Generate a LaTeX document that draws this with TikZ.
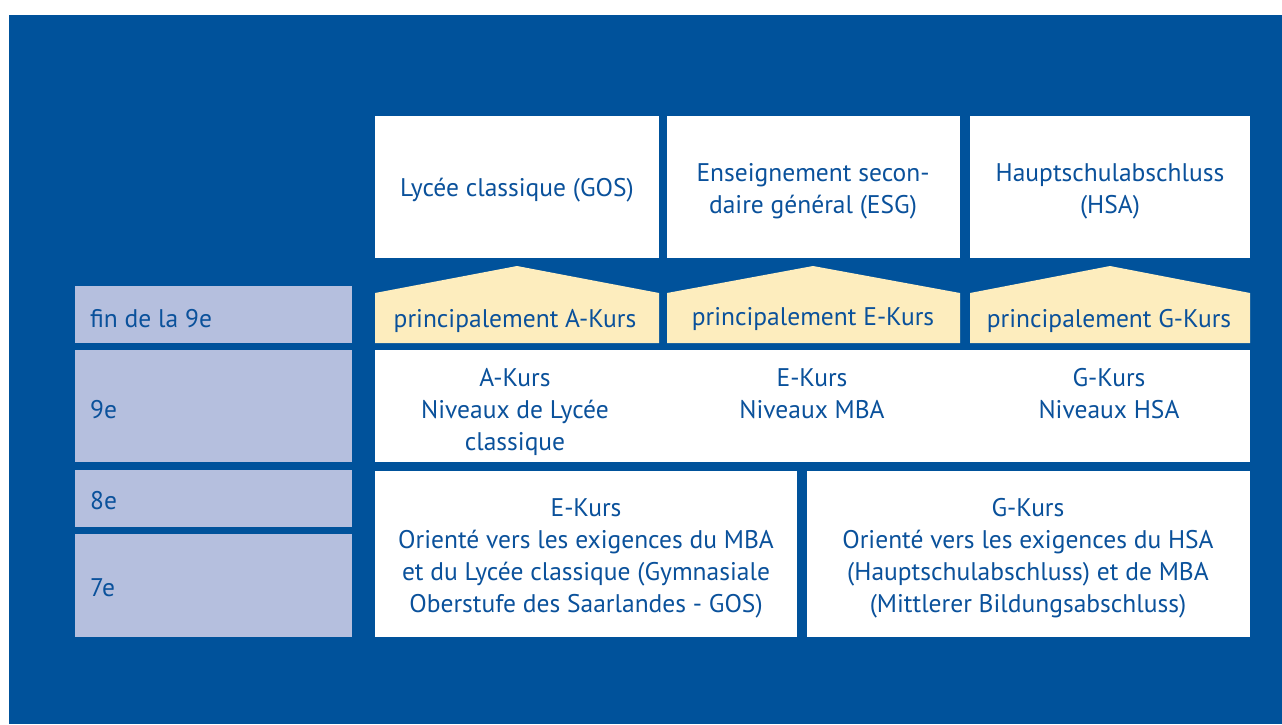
\documentclass[tikz,border=0pt]{standalone}
\usepackage{fontspec}
\setmainfont{PT Sans}
\definecolor{bgblue}{HTML}{00529B}
\definecolor{lav}{HTML}{B5BFDE}
\definecolor{pale}{HTML}{FDEDBE}
\definecolor{txt}{HTML}{0A519B}
\begin{document}
\begin{tikzpicture}[x=1pt,y=-1pt,
  lbl/.style={text=txt,font=\fontsize{25.5}{32}\selectfont,align=center,inner sep=0pt},
  lft/.style={text=txt,font=\fontsize{25.5}{32}\selectfont,anchor=west,inner sep=0pt},
  lavbox/.style={fill=lav},
  whitebox/.style={fill=white},
  roof/.style={fill=pale}]
\useasboundingbox (0,0) rectangle (1282,724);
\fill[white] (0,0) rectangle (1282,724);
\fill[bgblue] (9,15) rectangle (1282,724);
% left column
\fill[lavbox] (75,286) rectangle (352,343);
\fill[lavbox] (75,350) rectangle (352,462);
\fill[lavbox] (75,470) rectangle (352,527);
\fill[lavbox] (75,534) rectangle (352,637);
\node[lft] (fin) at (90,318.5) {fin de la 9e};
\node[lft] (n9) at (90,410) {9e};
\node[lft] (n8) at (90,501) {8e};
\node[lft] (n7) at (90,588) {7e};
% top boxes
\fill[whitebox] (375,116) rectangle (659,258);
\fill[whitebox] (667,116) rectangle (960,258);
\fill[whitebox] (970,116) rectangle (1250,258);
\node[lbl] (gos) at (517,190) {Lycée classique (GOS)};
\node[lbl] (esg) at (813,191) {Enseignement secon-\\daire général (ESG)};
\node[lbl] (hsa) at (1110,191) {Hauptschulabschluss\\(HSA)};
% roofs
\fill[roof] (375,343) -- (375,293) -- (517,266) -- (659,293) -- (659,343) -- cycle;
\fill[roof] (667,343) -- (667,293) -- (813,266) -- (960,293) -- (960,343) -- cycle;
\fill[roof] (970,343) -- (970,293) -- (1110,266) -- (1250,293) -- (1250,343) -- cycle;
\node[lbl] (pa) at (515,321) {principalement A-Kurs};
\node[lbl] (pe) at (813,319) {principalement E-Kurs};
\node[lbl] (pg) at (1109,321) {principalement G-Kurs};
% 9e row
\fill[whitebox] (375,350) rectangle (1250,462);
\node[lbl] (ak) at (515,411.5) {A-Kurs\\Niveaux de Lycée\\classique};
\node[lbl] (ek) at (812,393.5) {E-Kurs\\Niveaux MBA};
\node[lbl] (gk) at (1109,393.5) {G-Kurs\\Niveaux HSA};
% 7e-8e
\fill[whitebox] (375,471) rectangle (797,637);
\fill[whitebox] (807,471) rectangle (1250,637);
\node[lbl] (ebot) at (586,558.5) {E-Kurs\\Orienté vers les exigences du MBA\\et du Lycée classique (Gymnasiale\\Oberstufe des Saarlandes - GOS)};
\node[lbl] (gbot) at (1028,558.5) {G-Kurs\\Orienté vers les exigences du HSA\\(Hauptschulabschluss) et de MBA\\(Mittlerer Bildungsabschluss)};
\end{tikzpicture}
\end{document}
